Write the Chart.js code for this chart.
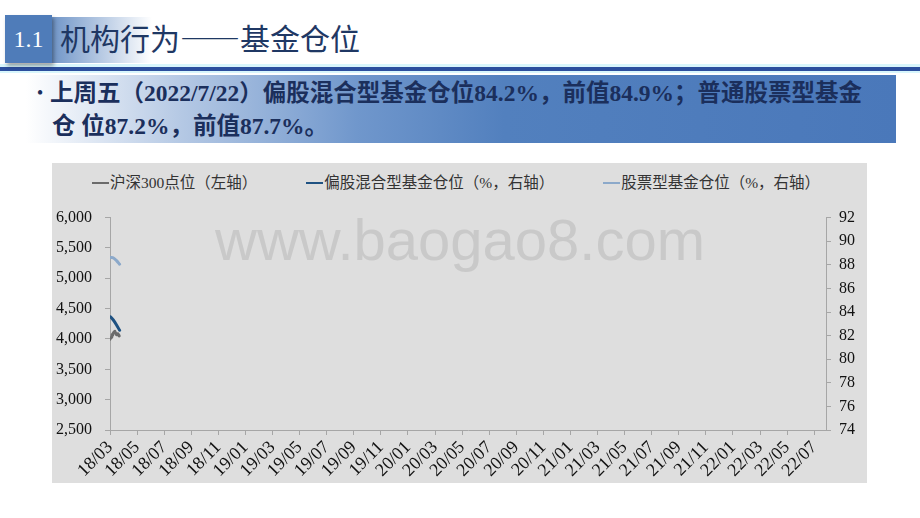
<!DOCTYPE html>
<html lang="zh-CN">
<head>
<meta charset="utf-8">
<script src="https://cdn.jsdelivr.net/npm/chart.js@4.4.1/dist/chart.umd.min.js"></script>
<style>
    html, body { margin: 0; padding: 0; background: #fff; }
    body { width: 920px; height: 518px; position: relative; overflow: hidden; font-family: "Noto Sans CJK SC", sans-serif; }
    .num-box {
        position: absolute; left: 5px; top: 15px; width: 47px; height: 48px;
        background: #4F7CB9; color: #fff; font: 24px "Liberation Serif", serif;
        display: flex; align-items: center; justify-content: center;
        box-shadow: 2px 3px 4px rgba(0, 0, 0, 0.35); z-index: 2;
    }
    .title-fade {
        position: absolute; left: 52px; top: 17px; width: 100px; height: 46px;
        background: linear-gradient(to right, #7196C8, rgba(255, 255, 255, 0));
    }
    .title { position: absolute; left: 60px; top: 15px; font-size: 30px; line-height: 44px; color: #1F3864; z-index: 3; }
    .rule {
        position: absolute; left: 0; top: 64px; width: 920px; height: 9px;
        background: linear-gradient(to bottom, #D8F6FC 0, #D8F6FC 3px, #2C4F9E 3px, #2C4F9E 7px, #D8F6FC 7px);
    }
    .bullet-box {
        position: absolute; left: 26px; top: 75px; width: 870px; height: 68px;
        background: linear-gradient(to right, #ffffff 0%, #B4C8E4 18%, #7097CC 38%, #5280BE 55%, #4A78BA 100%);
    }
    .bullet-text {
        position: absolute; left: 30px; top: 76px; width: 866px;
        font: bold 23.5px/33px "Liberation Serif", "Noto Sans CJK SC", serif; color: #1B2F5C;
    }
    .bullet-text .dot { display: inline-block; width: 20px; font-size: 16px; text-align: center; vertical-align: 3px; }
    .bullet-text .indent { display: inline-block; width: 22px; }
    .chart-bg { position: absolute; left: 52px; top: 163px; width: 815px; height: 320px; background: #DEDEDE; }
    .watermark {
        position: absolute; left: 163px; top: 48px; font: 58px/57px "Liberation Sans", Arial, sans-serif;
        color: #C9C9C9; white-space: nowrap;
    }
    .legend { position: absolute; left: 40px; top: 10px; display: flex; gap: 49px; }
    .legend-item { display: flex; align-items: center; font: 15.5px/20px "Liberation Serif", "Noto Sans CJK SC", serif; color: #333; white-space: nowrap; }
    .legend-item .swatch { width: 17px; height: 0; border-top: 2px solid; margin-right: 1px; }
    .canvas-wrap { position: absolute; left: 0; top: 32px; width: 815px; height: 288px; }
</style>
</head>
<body>
<div class="title-fade"></div>
<div class="num-box">1.1</div>
<div class="title">机构行为——基金仓位</div>
<div class="rule"></div>
<div class="bullet-box"></div>
<div class="bullet-text"><span class="dot">•</span>上周五（2022/7/22）偏股混合型基金仓位84.2%，前值84.9%；普通股票型基金<br><span class="indent"></span>仓 位87.2%，前值87.7%。</div>

<div class="chart-bg">
    <div class="watermark">www.baogao8.com</div>
    <div class="legend" id="legend"></div>
    <div class="canvas-wrap"><canvas id="fundChart" width="815" height="288"></canvas></div>
</div>

<script>
// x 轴标签（每两个月一个）
const tickLabels = [
    '18/03', '18/05', '18/07', '18/09', '18/11',
    '19/01', '19/03', '19/05', '19/07', '19/09', '19/11',
    '20/01', '20/03', '20/05', '20/07', '20/09', '20/11',
    '21/01', '21/03', '21/05', '21/07', '21/09', '21/11',
    '22/01', '22/03', '22/05', '22/07'
];
const axisStartDate = '2018-03-01';
const axisEndDate = '2022-07-28';

// 沪深300 日度点位
const hs300Dates = [
    '2018-03-01', '2018-03-02', '2018-03-05', '2018-03-06', '2018-03-07', '2018-03-08',
    '2018-03-09', '2018-03-12', '2018-03-13', '2018-03-14', '2018-03-15', '2018-03-16',
    '2018-03-19', '2018-03-20', '2018-03-21', '2018-03-22'
];
const hs300Values = [
    3995, 4015, 4030, 4075, 4060, 4085,
    4100, 4125, 4110, 4095, 4090, 4070,
    4085, 4075, 4065, 4050
];

// 基金仓位 周度
const fundDates = ['2018-03-02', '2018-03-09', '2018-03-16', '2018-03-23'];
const mixedFundValues = [83.6, 83.3, 82.9, 82.45];
const stockFundValues = [88.62, 88.58, 88.35, 88.05];

const seriesNames = ['沪深300点位（左轴）', '偏股混合型基金仓位（%，右轴）', '股票型基金仓位（%，右轴）'];
const seriesColors = ['#6B6B6B', '#1F5282', '#8CA9CA'];

const leftAxisRange = [2500, 6000, 500];
const rightAxisRange = [74, 92, 2];

function monthPos(dateStr) {
    const [y, m, d] = dateStr.split('-').map(Number);
    const days = new Date(y, m, 0).getDate();
    const [y0, m0] = axisStartDate.split('-').map(Number);
    return (y - y0) * 12 + (m - m0) + (d - 1) / days;
}

function labelPos(label) {
    const [yy, mm] = label.split('/').map(Number);
    return monthPos(`20${yy}-${String(mm).padStart(2, '0')}-01`);
}

function toPoints(dates, values) {
    return dates.map((d, i) => ({ x: monthPos(d), y: values[i] }));
}

const axisColor = '#A6A6A6';
const tickFont = { family: '"Liberation Serif", serif', size: 16 };

const ctx = document.getElementById('fundChart').getContext('2d');
const chart = new Chart(ctx, {
    type: 'line',
    data: {
        datasets: [
            {
                label: seriesNames[0],
                data: toPoints(hs300Dates, hs300Values),
                borderColor: seriesColors[0],
                yAxisID: 'y'
            },
            {
                label: seriesNames[1],
                data: toPoints(fundDates, mixedFundValues),
                borderColor: seriesColors[1],
                yAxisID: 'y1'
            },
            {
                label: seriesNames[2],
                data: toPoints(fundDates, stockFundValues),
                borderColor: seriesColors[2],
                yAxisID: 'y1'
            }
        ]
    },
    options: {
        responsive: false,
        animation: false,
        devicePixelRatio: 1,
        layout: { padding: { top: 18, left: 0, right: 0, bottom: 0 } },
        elements: {
            line: { borderWidth: 3, tension: 0.3, borderCapStyle: 'round', fill: false },
            point: { radius: 0, hoverRadius: 0 }
        },
        plugins: {
            legend: { display: false },
            tooltip: { enabled: false }
        },
        scales: {
            x: {
                type: 'linear',
                min: monthPos(axisStartDate),
                max: monthPos(axisEndDate),
                border: { display: true, color: axisColor, width: 1 },
                grid: { drawOnChartArea: false, drawTicks: true, tickLength: 5, color: axisColor },
                afterBuildTicks: (scale) => {
                    scale.ticks = tickLabels.map(l => ({ value: labelPos(l) }));
                },
                afterFit: (scale) => { scale.height = 53; },
                ticks: {
                    autoSkip: false,
                    minRotation: 45,
                    maxRotation: 45,
                    padding: 2,
                    color: '#111',
                    font: { family: '"Liberation Serif", serif', size: 18 },
                    callback: (value, index) => tickLabels[index]
                }
            },
            y: {
                position: 'left',
                min: leftAxisRange[0],
                max: leftAxisRange[1],
                border: { display: true, color: axisColor, width: 1 },
                grid: { drawOnChartArea: false, drawTicks: true, tickLength: 5, color: axisColor },
                afterFit: (scale) => { scale.width = 58; },
                ticks: {
                    stepSize: leftAxisRange[2],
                    padding: 13,
                    color: '#111',
                    font: tickFont,
                    callback: (v) => v.toLocaleString('en-US')
                }
            },
            y1: {
                position: 'right',
                min: rightAxisRange[0],
                max: rightAxisRange[1],
                border: { display: true, color: axisColor, width: 1 },
                grid: { drawOnChartArea: false, drawTicks: true, tickLength: 5, color: axisColor },
                afterFit: (scale) => { scale.width = 41; },
                ticks: {
                    stepSize: rightAxisRange[2],
                    padding: 8,
                    color: '#111',
                    font: tickFont
                }
            }
        }
    }
});

// HTML legend built from the chart datasets
const legendEl = document.getElementById('legend');
chart.data.datasets.forEach(ds => {
    const item = document.createElement('div');
    item.className = 'legend-item';
    item.innerHTML = `<span class="swatch" style="border-color:${ds.borderColor}"></span>${ds.label}`;
    legendEl.appendChild(item);
});
</script>
</body>
</html>
